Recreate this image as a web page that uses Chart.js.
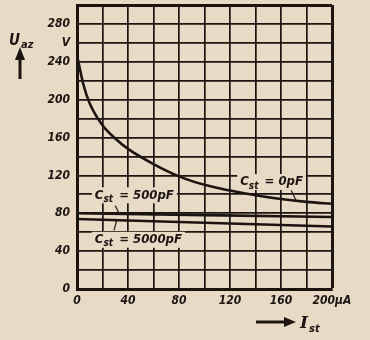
<!DOCTYPE html>
<html>
<head>
<meta charset="utf-8">
<script src="https://cdn.jsdelivr.net/npm/chart.js@4"></script>
<style>
  html, body { margin: 0; padding: 0; background: #e8dbc5; }
  #wrap { width: 370px; height: 340px; }
</style>
</head>
<body>
<div id="wrap"><canvas id="myChart" width="370" height="340"></canvas></div>
<script>
const ctx = document.getElementById('myChart').getContext('2d');

// values (I_st in µA, U_az in V)
const currents0 = [0, 5, 10, 20, 30, 40, 60, 80, 100, 120, 140, 160, 180, 200];
const voltage0pF = [247, 216, 196, 173, 159, 148, 132, 119, 110, 104, 99, 95, 92, 90];
const currentsFlat = [0, 100, 200];
const voltage500pF = [80, 78, 76];
const voltage5000pF = [74, 70, 66];
const yTickLabels = { 0: '0', 40: '40', 80: '80', 120: '120', 160: '160', 200: '200', 240: '240', 260: 'V', 280: '280' };
const xTickLabels = { 0: '0', 40: '40', 80: '80', 120: '120', 160: '160', 200: '200\u00b5A' };

const paper = '#e8dbc5';
const ink = '#1c1410';
const font = 'bold italic 13px "DejaVu Sans Condensed", "DejaVu Sans", sans-serif';
const subFont = 'bold italic 10px "DejaVu Sans Condensed", sans-serif';

function toPoints(xs, ys) {
    return xs.map((x, i) => ({ x: x, y: ys[i] }));
}

// text labels drawn on the chart, with paper-coloured backing
function curveLabel(c, text, xv, yv, lead) {
    const xs = c.scales.x, ys = c.scales.y;
    const px = xs.getPixelForValue(xv), py = ys.getPixelForValue(yv);
    const g = c.ctx;
    g.save();
    g.font = font;
    const w1 = g.measureText('C').width;
    g.font = subFont;
    const w2 = g.measureText('st').width;
    g.font = font;
    const w3 = g.measureText(text).width;
    const total = w1 + w2 + w3 + 2;
    g.fillStyle = paper;
    g.fillRect(px - 3, py - 8, total + 6, 16);
    g.fillStyle = ink;
    g.textBaseline = 'middle';
    g.fillText('C', px, py);
    g.font = subFont;
    g.fillText('st', px + w1, py + 4);
    g.font = font;
    g.fillText(text, px + w1 + w2 + 2, py);
    if (lead) {
        g.strokeStyle = ink;
        g.lineWidth = 1.2;
        g.beginPath();
        g.moveTo(xs.getPixelForValue(lead[0]), ys.getPixelForValue(lead[1]));
        g.lineTo(xs.getPixelForValue(lead[2]), ys.getPixelForValue(lead[3]));
        g.stroke();
    }
    g.restore();
}

const decorations = {
    id: 'decorations',
    afterDatasetsDraw(c) {
        const g = c.ctx;
        const a = c.chartArea;
        curveLabel(c, ' = 500pF', 14, 99, [30, 88, 33, 80]);
        curveLabel(c, ' = 5000pF', 14, 52, [29, 62, 31, 72]);
        curveLabel(c, ' = 0pF', 128, 113, [168, 104, 172, 93]);

        g.save();
        g.fillStyle = ink;
        g.strokeStyle = ink;
        // U_az with upward arrow
        g.font = 'bold italic 15px "DejaVu Sans Condensed", sans-serif';
        g.fillText('U', a.left - 68, a.top + 40);
        g.font = 'bold italic 11px "DejaVu Sans Condensed", sans-serif';
        g.fillText('az', a.left - 56, a.top + 43);
        g.lineWidth = 3;
        g.beginPath();
        g.moveTo(a.left - 57, a.top + 74);
        g.lineTo(a.left - 57, a.top + 52);
        g.stroke();
        g.beginPath();
        g.moveTo(a.left - 57, a.top + 42);
        g.lineTo(a.left - 62, a.top + 55);
        g.lineTo(a.left - 52, a.top + 55);
        g.closePath();
        g.fill();
        // I_st with right arrow
        g.beginPath();
        g.moveTo(a.right - 76, a.bottom + 33);
        g.lineTo(a.right - 46, a.bottom + 33);
        g.stroke();
        g.beginPath();
        g.moveTo(a.right - 36, a.bottom + 33);
        g.lineTo(a.right - 48, a.bottom + 28);
        g.lineTo(a.right - 48, a.bottom + 38);
        g.closePath();
        g.fill();
        g.font = 'bold italic 17px "DejaVu Serif", serif';
        g.fillText('I', a.right - 32, a.bottom + 39);
        g.font = 'bold italic 11px "DejaVu Sans Condensed", sans-serif';
        g.fillText('st', a.right - 23, a.bottom + 43);
        g.restore();
    }
};

function gridWidth(context, edge) {
    if (!context.tick) return 1.7;
    return context.tick.value === edge ? 3 : 1.7;
}

const tickFont = { family: '"DejaVu Sans Condensed", sans-serif', size: 12, weight: 'bold', style: 'italic' };

const myChart = new Chart(ctx, {
    type: 'line',
    data: {
        datasets: [
            { label: 'Cst = 0pF', data: toPoints(currents0, voltage0pF), cubicInterpolationMode: 'monotone' },
            { label: 'Cst = 500pF', data: toPoints(currentsFlat, voltage500pF) },
            { label: 'Cst = 5000pF', data: toPoints(currentsFlat, voltage5000pF) }
        ].map(d => Object.assign({
            borderColor: ink,
            borderWidth: 2.6,
            pointRadius: 0,
            fill: false
        }, d))
    },
    options: {
        responsive: false,
        animation: false,
        layout: { padding: { top: 5, right: 38, left: 0, bottom: 0 } },
        plugins: { legend: { display: false }, tooltip: { enabled: false } },
        scales: {
            x: {
                type: 'linear',
                min: 0,
                max: 200,
                ticks: {
                    stepSize: 20,
                    autoSkip: false,
                    maxRotation: 0,
                    padding: 5,
                    color: ink,
                    font: tickFont,
                    callback: v => xTickLabels[v] || ''
                },
                grid: { color: ink, lineWidth: c => gridWidth(c, 200), drawTicks: false },
                border: { color: ink, width: 3 },
                afterFit: s => { s.height = 51; s.paddingLeft = 0; s.paddingRight = 0; }
            },
            y: {
                min: 0,
                max: 300,
                ticks: {
                    stepSize: 20,
                    autoSkip: false,
                    padding: 7,
                    color: ink,
                    font: tickFont,
                    callback: v => yTickLabels[v] || ''
                },
                grid: { color: ink, lineWidth: c => gridWidth(c, 300), drawTicks: false },
                border: { color: ink, width: 3 },
                afterFit: s => { s.width = 77; s.paddingTop = 0; s.paddingBottom = 0; }
            }
        }
    },
    plugins: [decorations]
});
</script>
</body>
</html>
